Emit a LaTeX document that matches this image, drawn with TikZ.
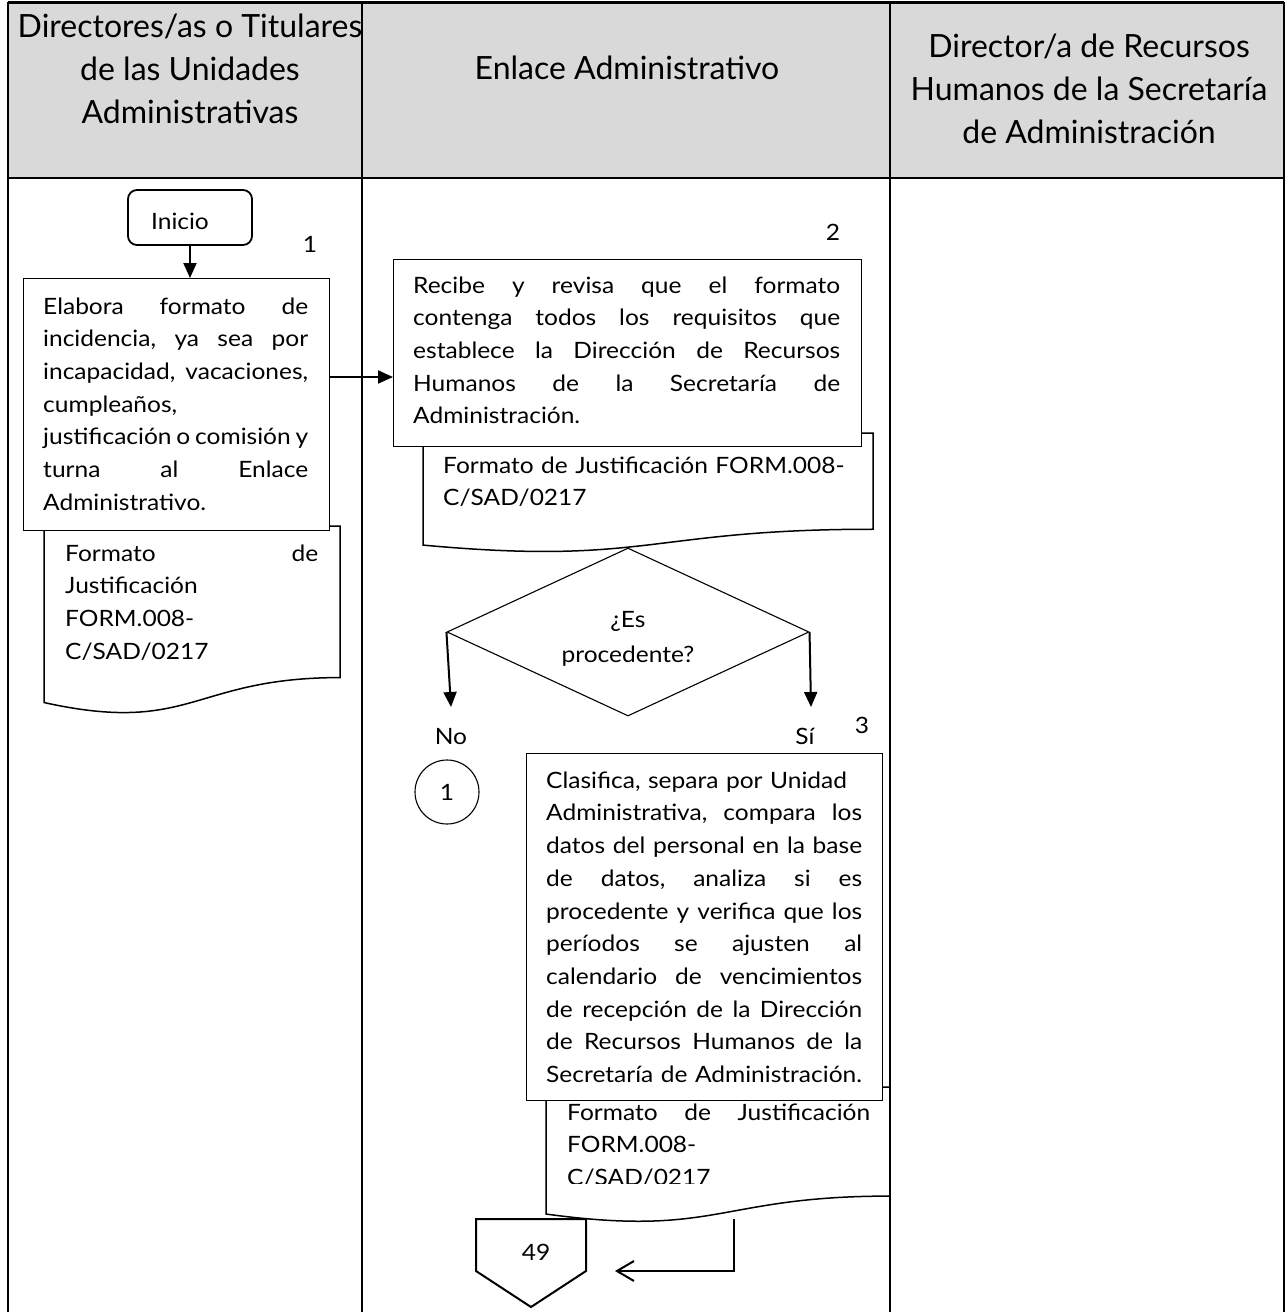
\documentclass[tikz,border=0pt]{standalone}
\usepackage{fontspec}
\setmainfont{Lato}
\newfontfamily\bodyfont[FakeStretch=1.09]{Lato}
\usetikzlibrary{arrows.meta,shapes.geometric,calc}
\definecolor{headgray}{HTML}{D9D9D9}
% a line spread to a fixed width: words are separated by \hfill
\newcommand\jst[2]{\makebox[#1pt][l]{#2}}
% a line kept whole, never broken
\newcommand\wholeline[1]{\mbox{#1}}
% flowchart "document" symbol: x, top, width, height, style
\newcommand\docshape[5]{%
  \draw[#5] (#1,#2) -- ({#1+#3},#2) -- ({#1+#3},{#2+0.802*#4})
    .. controls ({#1+0.5*#3},{#2+0.802*#4}) and ({#1+0.5*#3},{#2+1.107*#4})
    .. (#1,{#2+0.934*#4}) -- cycle;}
\begin{document}
\begin{tikzpicture}[x=1pt,y=-1pt,
  lane/.style={line width=2.4pt},
  proc/.style={draw, fill=white, line width=1.1pt, rectangle, inner sep=0pt, anchor=north west},
  docst/.style={draw, fill=white, line width=1.5pt},
  body/.style={font=\bodyfont\fontsize{22.5}{32.7}\selectfont, inner sep=0pt, anchor=north west, align=left},
  lbl/.style={font=\bodyfont\fontsize{22.5}{32.7}\selectfont, inner sep=0pt, anchor=base},
  head/.style={font=\fontsize{32}{43}\selectfont, inner sep=0pt, align=center},
  flow/.style={line width=2pt, -{Triangle[length=15pt,width=13pt]}},
  openflow/.style={line width=2pt, -{Straight Barb[length=17pt,width=20pt]}}
]
\useasboundingbox (0,0) rectangle (1286,1312);

% header band
\fill[headgray] (8,3) rectangle (1284,178);
\node[head, anchor=north] (h1) at (190,6.9) {\strut Directores/as o Titulares\\de las Unidades\\Administrativas};
\node[head, anchor=base] (h2) at (627,79) {Enlace Administrativo};
\node[head, anchor=north] (h3) at (1089,26.9) {\strut Director/a de Recursos\\Humanos de la Secretaría\\de Administración};

% ---- lane 1 ----
\node[draw, rounded corners=9pt, line width=1.8pt, minimum width=124pt, minimum height=55pt, inner sep=0pt] (ini) at (190,217.5) {};
\node[lbl] (iniT) at (180,229) {Inicio};
\node[lbl] (n1) at (310,252) {1};

\docshape{44}{526}{296}{189}{docst}
\node[proc, minimum width=306pt, minimum height=252pt] (p1) at (23,278) {};
\node[body, text width=265pt] (t1) at (43,291.1) {\strut\jst{265}{Elabora\hfill formato\hfill de}\\
\jst{265}{incidencia,\hfill ya\hfill sea\hfill por}\\
\jst{265}{incapacidad,\hfill vacaciones,}\\
\wholeline{cumpleaños,}\\
\jst{265}{justificación\hfill o\hfill comisión\hfill y}\\
\jst{265}{turna\hfill al\hfill Enlace}\\
\wholeline{Administrativo.}};
\node[body, text width=253pt] (td1) at (65,538.1) {\strut\jst{253}{Formato\hfill de}\\
\wholeline{Justificación}\\
\wholeline{FORM.008-}\\
\wholeline{C/SAD/0217}};

\draw[flow] (ini.south) -- (p1.north -| ini.south);

% ---- lane 2 ----
\node[lbl] (n2) at (833,240) {2};
\docshape{423}{433}{450}{120}{docst}
\node[proc, minimum width=468pt, minimum height=187pt] (p2) at (393,259) {};
\node[body, text width=427pt] (t2) at (413,270.1) {\strut\jst{427}{Recibe\hfill y\hfill revisa\hfill que\hfill el\hfill formato}\\
\jst{427}{contenga\hfill todos\hfill los\hfill requisitos\hfill que}\\
\jst{427}{establece\hfill la\hfill Dirección\hfill de\hfill Recursos}\\
\jst{427}{Humanos\hfill de\hfill la\hfill Secretaría\hfill de}\\
\wholeline{Administración.}};
\node[body, text width=420pt] (td2) at (443,450.1) {\strut\wholeline{Formato de Justificación FORM.008-}\\
\wholeline{C/SAD/0217}};

\coordinate (a1) at (0,377);
\draw[flow] (p1.east |- a1) -- (p2.west |- a1);

\node[draw, diamond, minimum width=362pt, minimum height=168pt, inner sep=0pt, line width=1.1pt] (dec) at (628,632) {};
\node[font=\bodyfont\fontsize{22.5}{35}\selectfont, inner sep=0pt, align=center, anchor=north] (decT) at (628,602.5) {\strut¿Es\\procedente?};

\coordinate (noTip) at (451,707);
\coordinate (siTip) at (811,707);
\draw[flow] (dec.west) -- (noTip);
\draw[flow] (dec.east) -- (siTip);
\node[lbl] (no) at (451,744) {No};
\node[lbl] (si) at (805,744) {Sí};
\node[lbl] (n3) at (862,733) {3};

\node[draw, circle, minimum size=64pt, inner sep=0pt, line width=1.1pt, font=\bodyfont\fontsize{22.5}{32.7}\selectfont] (con1) at (447,792) {1};

\docshape{546}{1087}{344}{136}{docst}
\node[proc, minimum width=356pt, minimum height=347pt] (p3) at (526,753) {};
\node[body, text width=316pt] (t3) at (546,765.1) {\strut\wholeline{Clasifica, separa por Unidad}\\
\jst{316}{Administrativa,\hfill compara\hfill los}\\
\jst{316}{datos\hfill del\hfill personal\hfill en\hfill la\hfill base}\\
\jst{316}{de\hfill datos,\hfill analiza\hfill si\hfill es}\\
\jst{316}{procedente\hfill y\hfill verifica\hfill que\hfill los}\\
\jst{316}{períodos\hfill se\hfill ajusten\hfill al}\\
\jst{316}{calendario\hfill de\hfill vencimientos}\\
\jst{316}{de\hfill recepción\hfill de\hfill la\hfill Dirección}\\
\jst{316}{de\hfill Recursos\hfill Humanos\hfill de\hfill la}\\
\wholeline{Secretaría de Administración.}};
% the document text runs past its frame and is cut off at the bottom
\begin{scope}
  \clip (540,1090) rectangle (895,1183);
  \node[body, text width=303pt] (td3) at (567,1097.1) {\strut\jst{303}{Formato\hfill de\hfill Justificación}\\
  \wholeline{FORM.008-}\\
  \wholeline{C/SAD/0217}};
\end{scope}

% off-page connector
\draw[line width=2pt] (476,1219) -- (586,1219) -- (586,1271) -- (531,1307) -- (476,1271) -- cycle;
\node[lbl] (off) at (536,1260) {49};
\coordinate (d3out) at (734,1219);
\coordinate (offIn) at (615,1271);
\draw[openflow] (d3out) |- (offIn);

% lane frame
\draw[line width=3pt] (8,2.5) -- (1284,2.5);
\draw[lane] (8,178) -- (1284,178);
\draw[lane] (8,2) -- (8,1312);
\draw[lane] (362,2) -- (362,1312);
\draw[lane] (890,2) -- (890,1312);
\draw[lane] (1284,2) -- (1284,1312);
\end{tikzpicture}
\end{document}
